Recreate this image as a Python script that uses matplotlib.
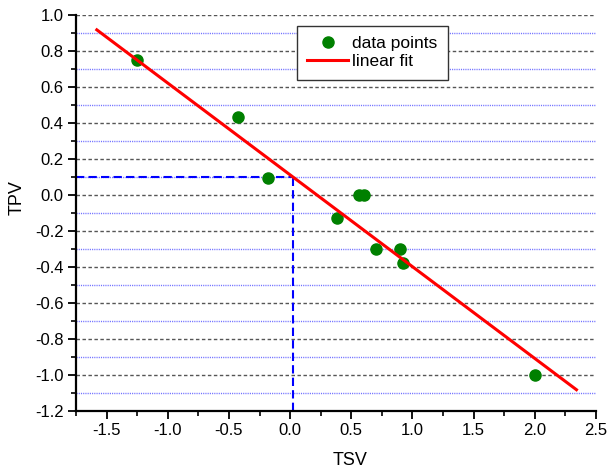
import numpy as np
import matplotlib.pyplot as plt
from matplotlib.ticker import MultipleLocator

plt.rcParams['font.family'] = ['Liberation Sans', 'DejaVu Sans']
plt.rcParams['font.size'] = 12

# thermal sensation vote vs. thermal preference vote
tsv = [-1.25, -0.43, -0.18, 0.38, 0.56, 0.60, 0.70, 0.90, 0.92, 2.00]
tpv = [0.75, 0.43, 0.09, -0.13, 0.00, 0.00, -0.30, -0.30, -0.38, -1.00]

# linear fit coefficients and range of the fitted line
fit_slope = -0.51
fit_intercept = 0.11
fit_range = [-1.58, 2.34]

# preferred vote level and the TSV where the fit reaches it
tpv_target = 0.1
tsv_target = (tpv_target - fit_intercept) / fit_slope

fig = plt.figure(figsize=(6.11, 4.69), dpi=100)
ax = fig.add_axes([0.1244, 0.1243, 0.8511, 0.8444])

ax.set_xlim(-1.75, 2.5)
ax.set_ylim(-1.2, 1.0)

ax.xaxis.set_major_locator(MultipleLocator(0.5))
ax.xaxis.set_minor_locator(MultipleLocator(0.25))
ax.yaxis.set_major_locator(MultipleLocator(0.2))
ax.yaxis.set_minor_locator(MultipleLocator(0.1))
ax.xaxis.set_major_formatter(lambda v, p: '%.1f' % v)
ax.yaxis.set_major_formatter(lambda v, p: '%.1f' % (0.0 if abs(v) < 1e-9 else v))

ax.grid(which='major', axis='y', color='#555555', lw=1.0, linestyle=(0, (2.5, 1.8)))
ax.grid(which='minor', axis='y', color='#7070ff', lw=1.0, linestyle=(0, (0.8, 0.8)))

for s in ['top', 'right']:
    ax.spines[s].set_visible(False)
for s in ['left', 'bottom']:
    ax.spines[s].set_linewidth(1.6)
ax.tick_params(which='major', direction='out', length=6, width=1.3, pad=3, labelsize=12)
ax.tick_params(which='minor', direction='out', length=3.5, width=1.2)

# reference lines at the preferred vote
ax.plot([-1.75, tsv_target], [tpv_target, tpv_target], color='blue', lw=1.5,
        linestyle=(0, (4, 2)), zorder=2)
ax.plot([tsv_target, tsv_target], [-1.2, tpv_target], color='blue', lw=1.5,
        linestyle=(0, (4, 2)), zorder=2)

xf = np.array(fit_range)
ax.plot(tsv, tpv, 'o', color='green', markersize=8, label='data points', zorder=3)
ax.plot(xf, fit_slope * xf + fit_intercept, color='red', lw=2.2, label='linear fit', zorder=4)

ax.set_xlabel('TSV', fontsize=13)
ax.set_ylabel('TPV', fontsize=13)
ax.xaxis.set_label_coords(0.527, -0.104)
ax.yaxis.set_label_coords(-0.097, 0.537)

leg = ax.legend(loc='upper left', bbox_to_anchor=(0.4244, 0.972), borderaxespad=0,
                fancybox=False, framealpha=1, edgecolor='#333333', fontsize=12.5,
                handlelength=2.35, borderpad=0.6, labelspacing=0.15, handletextpad=0.25)
leg.get_frame().set_linewidth(1.0)

fig.savefig('out.png', dpi=100)
